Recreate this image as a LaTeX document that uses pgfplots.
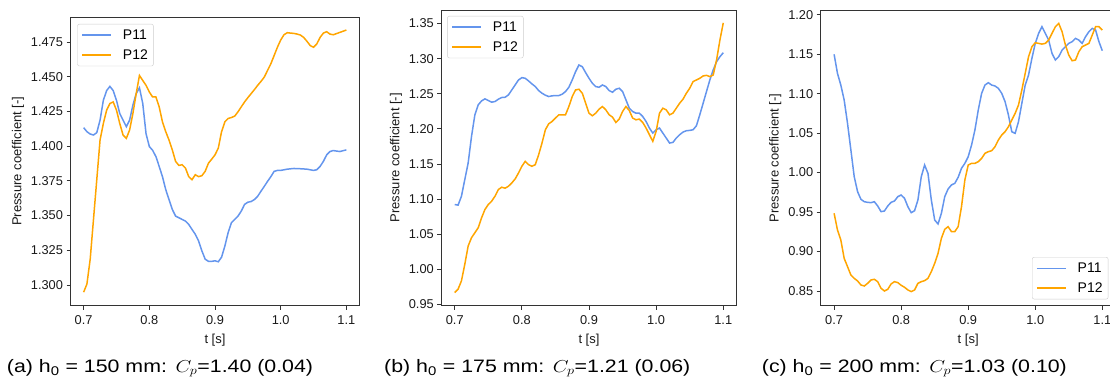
\documentclass[border=0pt]{standalone}
\usepackage{fontspec}
\setmainfont{Liberation Sans}
\usepackage{pgfplots}
\pgfplotsset{compat=1.18}
\definecolor{cblue}{HTML}{6495ED}
\definecolor{corange}{HTML}{FFA500}
\pgfplotsset{
  myaxis/.style={
    scale only axis,
    xmin=0.68, xmax=1.12,
    xtick={0.7,0.8,0.9,1.0,1.1},
    xticklabels={0.7,0.8,0.9,1.0,1.1},
    tick pos=left,
    tick align=outside,
    major tick length=4pt,
    every tick/.style={black!80, line width=0.8pt},
    axis line style={black!80, line width=0.9pt},
    ticklabel style={font=\fontsize{12.8}{14}\selectfont, text=black!90},
    xticklabel style={yshift=-2.5pt},
    label style={font=\fontsize{13}{15}\selectfont, text=black!90},
    xlabel style={yshift=-2.5pt},
    xlabel={t [s]},
    ylabel={Pressure coefficient [-]},
    /pgf/number format/assume math mode=true,
    legend style={font=\fontsize{14}{16}\selectfont, draw=black!20, rounded corners=2pt, fill=white,
      inner xsep=4pt, inner ysep=4pt, row sep=5.5pt, column sep=9.5pt,
      nodes={inner sep=1.5pt}},
    legend cell align=left,
    legend image code/.code={\draw[#1, line width=1.5pt] (0pt,0pt) -- (29pt,0pt);},
    every axis plot/.append style={line width=1.5pt},
  }
}
\begin{document}
\begin{tikzpicture}
\useasboundingbox (0,0) rectangle (1110pt,381pt);
% ---------------- (a)
\begin{axis}[myaxis, at={(70.5pt,75.5pt)}, anchor=south west, width=289pt, height=288.5pt,
  ymin=1.2852, ymax=1.4930,
  ytick={1.300,1.325,1.350,1.375,1.400,1.425,1.450,1.475},
  yticklabel style={/pgf/number format/.cd, fixed, fixed zerofill, precision=3},
  legend style={at={(0.0235,0.976)}, anchor=north west}]
\addplot[cblue] coordinates {
(0.700,1.4133)(0.705,1.4104)(0.710,1.4087)(0.715,1.4080)(0.720,1.4097)(0.725,1.4187)
(0.730,1.4330)(0.735,1.4400)(0.740,1.4430)(0.745,1.4400)(0.750,1.4330)(0.755,1.4235)
(0.760,1.4187)(0.765,1.4140)(0.770,1.4187)(0.775,1.4295)(0.780,1.4378)(0.785,1.4420)
(0.790,1.4307)(0.795,1.4090)(0.800,1.3997)(0.805,1.3970)(0.810,1.3925)(0.815,1.3854)
(0.820,1.3780)(0.825,1.3687)(0.830,1.3615)(0.835,1.3544)(0.840,1.3496)(0.845,1.3484)
(0.850,1.3472)(0.855,1.3460)(0.860,1.3436)(0.865,1.3400)(0.870,1.3365)(0.875,1.3317)
(0.880,1.3246)(0.885,1.3186)(0.890,1.3170)(0.895,1.3170)(0.900,1.3174)(0.905,1.3167)
(0.910,1.3200)(0.915,1.3280)(0.920,1.3377)(0.925,1.3448)(0.930,1.3472)(0.935,1.3496)
(0.940,1.3532)(0.945,1.3580)(0.950,1.3596)(0.955,1.3601)(0.960,1.3615)(0.965,1.3639)
(0.970,1.3675)(0.975,1.3710)(0.980,1.3746)(0.985,1.3780)(0.990,1.3818)(0.995,1.3825)
(1.000,1.3825)(1.010,1.3834)(1.020,1.3839)(1.030,1.3837)(1.040,1.3834)(1.050,1.3825)
(1.055,1.3830)(1.060,1.3854)(1.065,1.3890)(1.070,1.3937)(1.075,1.3961)(1.080,1.3968)
(1.090,1.3961)(1.100,1.3973)};
\addlegendentry{P11}
\addplot[corange] coordinates {
(0.700,1.2948)(0.705,1.3007)(0.710,1.3186)(0.715,1.3472)(0.720,1.3758)(0.725,1.4044)
(0.730,1.4163)(0.735,1.4259)(0.740,1.4307)(0.745,1.4318)(0.750,1.4259)(0.755,1.4163)
(0.760,1.4080)(0.765,1.4056)(0.770,1.4116)(0.775,1.4235)(0.780,1.4378)(0.785,1.4509)
(0.790,1.4473)(0.795,1.4438)(0.800,1.4390)(0.805,1.4354)(0.810,1.4354)(0.815,1.4283)
(0.820,1.4175)(0.825,1.4104)(0.830,1.4044)(0.835,1.3973)(0.840,1.3890)(0.845,1.3861)
(0.850,1.3866)(0.855,1.3842)(0.860,1.3780)(0.865,1.3758)(0.870,1.3794)(0.875,1.3780)
(0.880,1.3787)(0.885,1.3818)(0.890,1.3877)(0.895,1.3906)(0.900,1.3937)(0.905,1.3985)
(0.910,1.4104)(0.915,1.4175)(0.920,1.4199)(0.925,1.4206)(0.930,1.4216)(0.935,1.4247)
(0.940,1.4283)(0.945,1.4318)(0.950,1.4349)(0.955,1.4378)(0.960,1.4407)(0.965,1.4438)
(0.970,1.4466)(0.975,1.4497)(0.980,1.4545)(0.985,1.4593)(0.990,1.4652)(0.995,1.4712)
(1.000,1.4764)(1.005,1.4802)(1.010,1.4817)(1.015,1.4814)(1.020,1.4812)(1.025,1.4807)
(1.030,1.4800)(1.035,1.4783)(1.040,1.4755)(1.045,1.4724)(1.050,1.4712)(1.055,1.4736)
(1.060,1.4783)(1.065,1.4814)(1.070,1.4824)(1.075,1.4807)(1.080,1.4802)(1.090,1.4819)
(1.100,1.4836)};
\addlegendentry{P12}
\end{axis}
% ---------------- (b)
\begin{axis}[myaxis, at={(441.3pt,75.5pt)}, anchor=south west, width=295.4pt, height=295.5pt,
  ymin=0.9485, ymax=1.3692,
  ytick={0.95,1.00,1.05,1.10,1.15,1.20,1.25,1.30,1.35},
  yticklabel style={/pgf/number format/.cd, fixed, fixed zerofill, precision=2},
  legend style={at={(0.02,0.98)}, anchor=north west}]
\addplot[cblue] coordinates {
(0.700,1.0923)(0.705,1.0914)(0.710,1.1041)(0.715,1.1278)(0.720,1.1514)(0.725,1.1892)
(0.730,1.2200)(0.735,1.2342)(0.740,1.2398)(0.745,1.2427)(0.750,1.2403)(0.755,1.2380)
(0.760,1.2389)(0.765,1.2422)(0.770,1.2446)(0.775,1.2450)(0.780,1.2483)(0.785,1.2554)
(0.790,1.2625)(0.795,1.2696)(0.800,1.2729)(0.805,1.2720)(0.810,1.2682)(0.815,1.2640)
(0.820,1.2602)(0.825,1.2545)(0.830,1.2507)(0.835,1.2479)(0.840,1.2460)(0.845,1.2470)
(0.850,1.2474)(0.855,1.2474)(0.860,1.2493)(0.865,1.2531)(0.870,1.2592)(0.875,1.2696)
(0.880,1.2814)(0.885,1.2909)(0.890,1.2885)(0.895,1.2800)(0.900,1.2720)(0.905,1.2649)
(0.910,1.2602)(0.915,1.2592)(0.920,1.2625)(0.925,1.2602)(0.930,1.2545)(0.935,1.2521)
(0.940,1.2564)(0.945,1.2578)(0.950,1.2531)(0.955,1.2413)(0.960,1.2294)(0.965,1.2247)
(0.970,1.2223)(0.975,1.2223)(0.980,1.2176)(0.985,1.2105)(0.990,1.2011)(0.995,1.1940)
(1.000,1.1987)(1.005,1.2011)(1.010,1.1940)(1.015,1.1869)(1.020,1.1798)(1.025,1.1807)
(1.030,1.1869)(1.035,1.1916)(1.040,1.1954)(1.045,1.1973)(1.050,1.1978)(1.055,1.1987)
(1.060,1.2044)(1.065,1.2200)(1.070,1.2365)(1.075,1.2531)(1.080,1.2696)(1.085,1.2838)
(1.090,1.2956)(1.095,1.3027)(1.100,1.3084)};
\addlegendentry{P11}
\addplot[corange] coordinates {
(0.700,0.9670)(0.705,0.9718)(0.710,0.9836)(0.715,1.0072)(0.720,1.0332)(0.725,1.0450)
(0.730,1.0521)(0.735,1.0592)(0.740,1.0734)(0.745,1.0852)(0.750,1.0923)(0.755,1.0970)
(0.760,1.1041)(0.765,1.1136)(0.770,1.1169)(0.775,1.1155)(0.780,1.1183)(0.785,1.1230)
(0.790,1.1287)(0.795,1.1372)(0.800,1.1467)(0.805,1.1538)(0.810,1.1490)(0.815,1.1467)
(0.820,1.1490)(0.825,1.1632)(0.830,1.1798)(0.835,1.1987)(0.840,1.2072)(0.845,1.2105)
(0.850,1.2153)(0.855,1.2200)(0.860,1.2200)(0.865,1.2200)(0.870,1.2318)(0.875,1.2460)
(0.880,1.2554)(0.885,1.2564)(0.890,1.2507)(0.895,1.2365)(0.900,1.2223)(0.905,1.2186)
(0.910,1.2223)(0.915,1.2280)(0.920,1.2318)(0.925,1.2271)(0.930,1.2200)(0.935,1.2167)
(0.940,1.2091)(0.945,1.2139)(0.950,1.2247)(0.955,1.2318)(0.960,1.2261)(0.965,1.2153)
(0.970,1.2129)(0.975,1.2139)(0.980,1.2091)(0.985,1.2011)(0.990,1.1916)(0.995,1.1822)
(1.000,1.1963)(1.005,1.2223)(1.010,1.2294)(1.015,1.2271)(1.020,1.2200)(1.025,1.2223)
(1.030,1.2294)(1.035,1.2365)(1.040,1.2422)(1.045,1.2507)(1.050,1.2578)(1.055,1.2673)
(1.060,1.2696)(1.065,1.2720)(1.070,1.2753)(1.075,1.2762)(1.080,1.2743)(1.085,1.2767)
(1.090,1.2980)(1.095,1.3264)(1.100,1.3509)};
\addlegendentry{P12}
\end{axis}
% ---------------- (c)
\begin{axis}[myaxis, at={(820.7pt,75.5pt)}, anchor=south west, width=295pt, height=294.8pt,
  ymin=0.8316, ymax=1.2051,
  ytick={0.85,0.90,0.95,1.00,1.05,1.10,1.15,1.20},
  yticklabel style={/pgf/number format/.cd, fixed, fixed zerofill, precision=2},
  legend style={at={(0.975,0.021)}, anchor=south east}]
\addplot[cblue] coordinates {
(0.700,1.1498)(0.705,1.1257)(0.710,1.1109)(0.715,1.0919)(0.720,1.0624)(0.725,1.0286)
(0.730,0.9948)(0.735,0.9758)(0.740,0.9661)(0.745,0.9631)(0.750,0.9623)(0.755,0.9619)
(0.760,0.9631)(0.765,0.9577)(0.770,0.9505)(0.775,0.9513)(0.780,0.9577)(0.785,0.9623)
(0.790,0.9640)(0.795,0.9695)(0.800,0.9716)(0.805,0.9674)(0.810,0.9568)(0.815,0.9492)
(0.820,0.9517)(0.825,0.9653)(0.830,0.9948)(0.835,1.0096)(0.840,0.9990)(0.845,0.9653)
(0.850,0.9399)(0.855,0.9349)(0.860,0.9484)(0.865,0.9695)(0.870,0.9792)(0.875,0.9843)
(0.880,0.9864)(0.885,0.9940)(0.890,1.0054)(0.895,1.0117)(0.900,1.0201)(0.905,1.0349)
(0.910,1.0539)(0.915,1.0792)(0.920,1.1004)(0.925,1.1109)(0.930,1.1139)(0.935,1.1109)
(0.940,1.1097)(0.945,1.1067)(0.950,1.1004)(0.955,1.0898)(0.960,1.0729)(0.965,1.0518)
(0.970,1.0497)(0.975,1.0645)(0.980,1.0877)(0.985,1.1109)(0.990,1.1236)(0.995,1.1447)
(1.000,1.1637)(1.005,1.1764)(1.010,1.1848)(1.015,1.1764)(1.020,1.1679)(1.025,1.1510)
(1.030,1.1426)(1.035,1.1468)(1.040,1.1552)(1.045,1.1595)(1.050,1.1637)(1.055,1.1658)
(1.060,1.1700)(1.065,1.1679)(1.070,1.1637)(1.075,1.1721)(1.080,1.1785)(1.085,1.1827)
(1.090,1.1806)(1.095,1.1658)(1.100,1.1544)};
\addlegendentry{P11}
\addplot[corange] coordinates {
(0.700,0.9484)(0.705,0.9273)(0.710,0.9146)(0.715,0.8914)(0.720,0.8808)(0.725,0.8703)
(0.730,0.8660)(0.735,0.8627)(0.740,0.8576)(0.745,0.8563)(0.750,0.8597)(0.755,0.8639)
(0.760,0.8648)(0.765,0.8618)(0.770,0.8534)(0.775,0.8500)(0.780,0.8521)(0.785,0.8589)
(0.790,0.8618)(0.795,0.8606)(0.800,0.8572)(0.805,0.8547)(0.810,0.8513)(0.815,0.8492)
(0.820,0.8513)(0.825,0.8597)(0.830,0.8618)(0.835,0.8631)(0.840,0.8660)(0.845,0.8745)
(0.850,0.8850)(0.855,0.8977)(0.860,0.9167)(0.865,0.9281)(0.870,0.9315)(0.875,0.9252)
(0.880,0.9252)(0.885,0.9315)(0.890,0.9568)(0.895,0.9906)(0.900,1.0096)(0.905,1.0117)
(0.910,1.0117)(0.915,1.0138)(0.920,1.0180)(0.925,1.0244)(0.930,1.0265)(0.935,1.0277)
(0.940,1.0328)(0.945,1.0413)(0.950,1.0476)(0.955,1.0518)(0.960,1.0581)(0.965,1.0666)
(0.970,1.0750)(0.975,1.0856)(0.980,1.1046)(0.985,1.1257)(0.990,1.1468)(0.995,1.1595)
(1.000,1.1645)(1.005,1.1637)(1.010,1.1628)(1.015,1.1637)(1.020,1.1679)(1.025,1.1764)
(1.030,1.1848)(1.035,1.1890)(1.040,1.1785)(1.045,1.1616)(1.050,1.1489)(1.055,1.1417)
(1.060,1.1426)(1.065,1.1531)(1.070,1.1595)(1.075,1.1616)(1.080,1.1637)(1.085,1.1742)
(1.090,1.1848)(1.095,1.1848)(1.100,1.1806)};
\addlegendentry{P12}
\end{axis}
% captions
\tikzset{capt/.style={anchor=base west, inner sep=0pt, font=\fontsize{18}{20}\selectfont, xscale=1.185, transform shape}}
\node[capt] at (6.7pt,8.7pt)
  {(a) h\textsubscript{0} = 150 mm:\hspace{0.4em}$C_p$=1.40 (0.04)};
\node[capt] at (384pt,8.7pt)
  {(b) h\textsubscript{0} = 175 mm:\hspace{0.4em}$C_p$=1.21 (0.06)};
\node[capt] at (761.7pt,8.7pt)
  {(c) h\textsubscript{0} = 200 mm:\hspace{0.4em}$C_p$=1.03 (0.10)};
\end{tikzpicture}
\end{document}
